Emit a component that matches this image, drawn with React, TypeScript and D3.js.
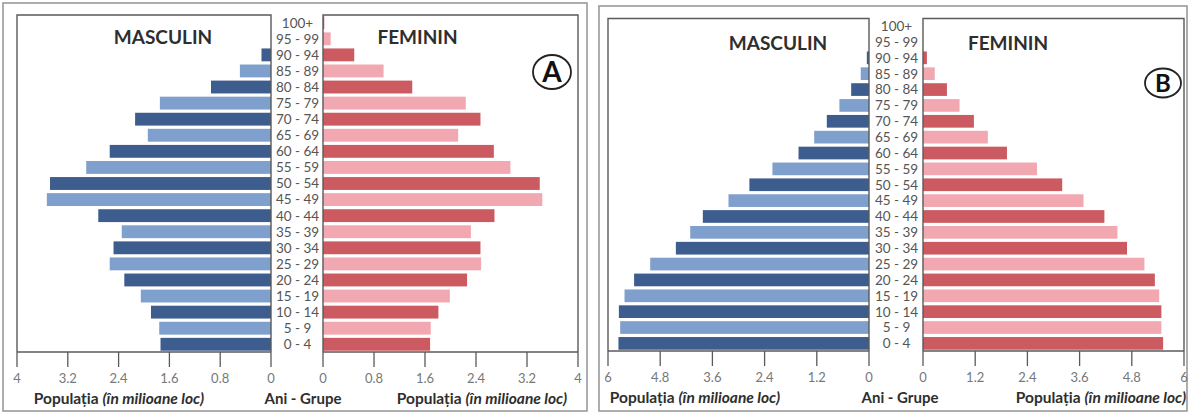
import React from "react";
import * as d3 from "d3";

const ageGroups = ["0 - 4", "5 - 9", "10 - 14", "15 - 19", "20 - 24", "25 - 29", "30 - 34", "35 - 39", "40 - 44", "45 - 49", "50 - 54", "55 - 59", "60 - 64", "65 - 69", "70 - 74", "75 - 79", "80 - 84", "85 - 89", "90 - 94", "95 - 99", "100+"];

const maleA = [1.74, 1.76, 1.89, 2.05, 2.31, 2.54, 2.48, 2.35, 2.72, 3.53, 3.48, 2.91, 2.54, 1.94, 2.14, 1.75, 0.945, 0.49, 0.15, 0.0, 0];
const femaleA = [1.68, 1.69, 1.81, 1.99, 2.26, 2.48, 2.47, 2.32, 2.69, 3.44, 3.40, 2.94, 2.68, 2.12, 2.47, 2.24, 1.40, 0.95, 0.49, 0.12, 0.02];
const maleB = [5.76, 5.72, 5.75, 5.62, 5.40, 5.03, 4.44, 4.11, 3.82, 3.23, 2.75, 2.22, 1.62, 1.26, 0.97, 0.68, 0.41, 0.19, 0.05, 0.0, 0];
const femaleB = [5.52, 5.48, 5.48, 5.43, 5.33, 5.09, 4.69, 4.47, 4.17, 3.69, 3.20, 2.62, 1.93, 1.49, 1.17, 0.84, 0.55, 0.27, 0.09, 0.0, 0];

const ticksA = [0, 0.8, 1.6, 2.4, 3.2, 4];
const ticksB = [0, 1.2, 2.4, 3.6, 4.8, 6];

const maleLabel = "MASCULIN";
const femaleLabel = "FEMININ";
const ageAxisLabel = "Ani - Grupe";
const popLabel = "Populația";
const popUnit = "(în milioane loc)";

const COLORS = {
  maleDark: "#3d5d8e",
  maleLight: "#7f9fcd",
  femDark: "#cc5a61",
  femLight: "#f2a8b0",
  frame: "#5a5a5a",
  outer: "#9a9a9a",
  text: "#2e2e2e",
  tick: "#777777",
  age: "#555555",
};

const FONT = "Lato, 'Open Sans', sans-serif";

type Cfg = {
  outer: [number, number, number, number];
  left: number;
  zl: number;
  zr: number;
  right: number;
  yTop: number;
  yAxis: number;
  labelX: number;
  max: number;
  ticks: number[];
  mascX: number;
  femX: number;
  titleY: number;
  badge: { cx: number; cy: number; rx: number; ry: number; fs: number; letter: string };
  popLX: number;
  popRX: number;
  aniX: number;
};

function Panel({ cfg, male, female }: { cfg: Cfg; male: number[]; female: number[] }) {
  const y = d3
    .scaleBand<string>()
    .domain(ageGroups)
    .range([cfg.yAxis, cfg.yTop])
    .paddingInner(0.2)
    .paddingOuter(0.08);
  const xl = d3.scaleLinear().domain([0, cfg.max]).range([cfg.zl, cfg.left]);
  const xr = d3.scaleLinear().domain([0, cfg.max]).range([cfg.zr, cfg.right]);
  const bw = y.bandwidth();
  const tickLen = 15;
  const fmt = (v: number) => String(v);
  return (
    <g>
      <rect
        x={cfg.outer[0]}
        y={cfg.outer[1]}
        width={cfg.outer[2] - cfg.outer[0]}
        height={cfg.outer[3] - cfg.outer[1]}
        fill="white"
        stroke={COLORS.outer}
        strokeWidth={1.6}
      />
      {ageGroups.map((g, i) => (
        <rect
          key={"m" + g}
          x={xl(male[i])}
          y={y(g)}
          width={cfg.zl - xl(male[i])}
          height={bw}
          fill={i % 2 === 0 ? COLORS.maleDark : COLORS.maleLight}
        />
      ))}
      {ageGroups.map((g, i) => (
        <rect
          key={"f" + g}
          x={cfg.zr}
          y={y(g)}
          width={xr(female[i]) - cfg.zr}
          height={bw}
          fill={i % 2 === 0 ? COLORS.femDark : COLORS.femLight}
        />
      ))}
      <path
        d={`M${cfg.left},${cfg.yAxis}V${cfg.yTop}H${cfg.zl}V${cfg.yAxis}`}
        fill="none"
        stroke={COLORS.frame}
        strokeWidth={1.4}
      />
      <path
        d={`M${cfg.zr},${cfg.yAxis}V${cfg.yTop}H${cfg.right}V${cfg.yAxis}`}
        fill="none"
        stroke={COLORS.frame}
        strokeWidth={1.4}
      />
      <line x1={cfg.left} x2={cfg.zl} y1={cfg.yAxis} y2={cfg.yAxis} stroke={COLORS.frame} strokeWidth={1.4} />
      <line x1={cfg.zr} x2={cfg.right} y1={cfg.yAxis} y2={cfg.yAxis} stroke={COLORS.frame} strokeWidth={1.4} />
      {cfg.ticks.map((t) => (
        <g key={"lt" + t}>
          <line x1={xl(t)} x2={xl(t)} y1={cfg.yAxis} y2={cfg.yAxis + tickLen} stroke={COLORS.frame} strokeWidth={1.3} />
          <text x={xl(t)} y={cfg.yAxis + 31} textAnchor="middle" fontSize={13} fill={COLORS.tick} fontFamily={FONT}>
            {fmt(t)}
          </text>
        </g>
      ))}
      {cfg.ticks.map((t) => (
        <g key={"rt" + t}>
          <line x1={xr(t)} x2={xr(t)} y1={cfg.yAxis} y2={cfg.yAxis + tickLen} stroke={COLORS.frame} strokeWidth={1.3} />
          <text x={xr(t)} y={cfg.yAxis + 31} textAnchor="middle" fontSize={13} fill={COLORS.tick} fontFamily={FONT}>
            {fmt(t)}
          </text>
        </g>
      ))}
      {ageGroups.map((g) => (
        <text
          key={"a" + g}
          x={cfg.labelX}
          y={(y(g) as number) + bw / 2}
          dy="0.36em"
          textAnchor="middle"
          fontSize={13.5}
          fill={COLORS.age}
          fontFamily={FONT}
        >
          {g}
        </text>
      ))}
      <text x={cfg.mascX} y={cfg.titleY} textAnchor="middle" fontSize={19} fontWeight="bold" fill={COLORS.text} fontFamily={FONT}>
        {maleLabel}
      </text>
      <text x={cfg.femX} y={cfg.titleY} textAnchor="middle" fontSize={19} fontWeight="bold" fill={COLORS.text} fontFamily={FONT}>
        {femaleLabel}
      </text>
      <ellipse cx={cfg.badge.cx} cy={cfg.badge.cy} rx={cfg.badge.rx} ry={cfg.badge.ry} fill="white" stroke="#222" strokeWidth={1.8} />
      <text
        x={cfg.badge.cx}
        y={cfg.badge.cy}
        dy="0.36em"
        textAnchor="middle"
        fontSize={cfg.badge.fs}
        fontWeight="bold"
        fill="#111"
        fontFamily={FONT}
      >
        {cfg.badge.letter}
      </text>
      <text x={cfg.popLX} y={cfg.yAxis + 52} textAnchor="middle" fontSize={15.5} fontWeight="bold" fill={COLORS.text} fontFamily={FONT}>
        {popLabel} <tspan fontStyle="italic">{popUnit}</tspan>
      </text>
      <text x={cfg.popRX} y={cfg.yAxis + 52} textAnchor="middle" fontSize={15.5} fontWeight="bold" fill={COLORS.text} fontFamily={FONT}>
        {popLabel} <tspan fontStyle="italic">{popUnit}</tspan>
      </text>
      <text x={cfg.aniX} y={cfg.yAxis + 52} textAnchor="middle" fontSize={15} fontWeight="bold" fill={COLORS.text} fontFamily={FONT}>
        {ageAxisLabel}
      </text>
    </g>
  );
}

const cfgA: Cfg = {
  outer: [3, 3, 587, 411],
  left: 17,
  zl: 271,
  zr: 323,
  right: 578,
  yTop: 15,
  yAxis: 352,
  labelX: 297.5,
  max: 4,
  ticks: ticksA,
  mascX: 163,
  femX: 417.5,
  titleY: 44,
  badge: { cx: 552, cy: 72, rx: 19, ry: 17, fs: 28, letter: "A" },
  popLX: 119,
  popRX: 482,
  aniX: 303,
};

const cfgB: Cfg = {
  outer: [599, 6, 1187, 411],
  left: 608,
  zl: 869,
  zr: 923,
  right: 1184,
  yTop: 18.5,
  yAxis: 351,
  labelX: 896.5,
  max: 6,
  ticks: ticksB,
  mascX: 778,
  femX: 1008,
  titleY: 50,
  badge: { cx: 1163, cy: 83, rx: 18, ry: 14.5, fs: 24, letter: "B" },
  popLX: 695,
  popRX: 1101,
  aniX: 900,
};

export default function App() {
  return (
    <svg
      width={1189}
      height={414}
      viewBox="0 0 1189 414"
      style={{ position: "absolute", left: 0, top: 0, background: "white" }}
    >
      <rect x={0} y={0} width={1189} height={414} fill="white" />
      <Panel cfg={cfgA} male={maleA} female={femaleA} />
      <Panel cfg={cfgB} male={maleB} female={femaleB} />
    </svg>
  );
}
